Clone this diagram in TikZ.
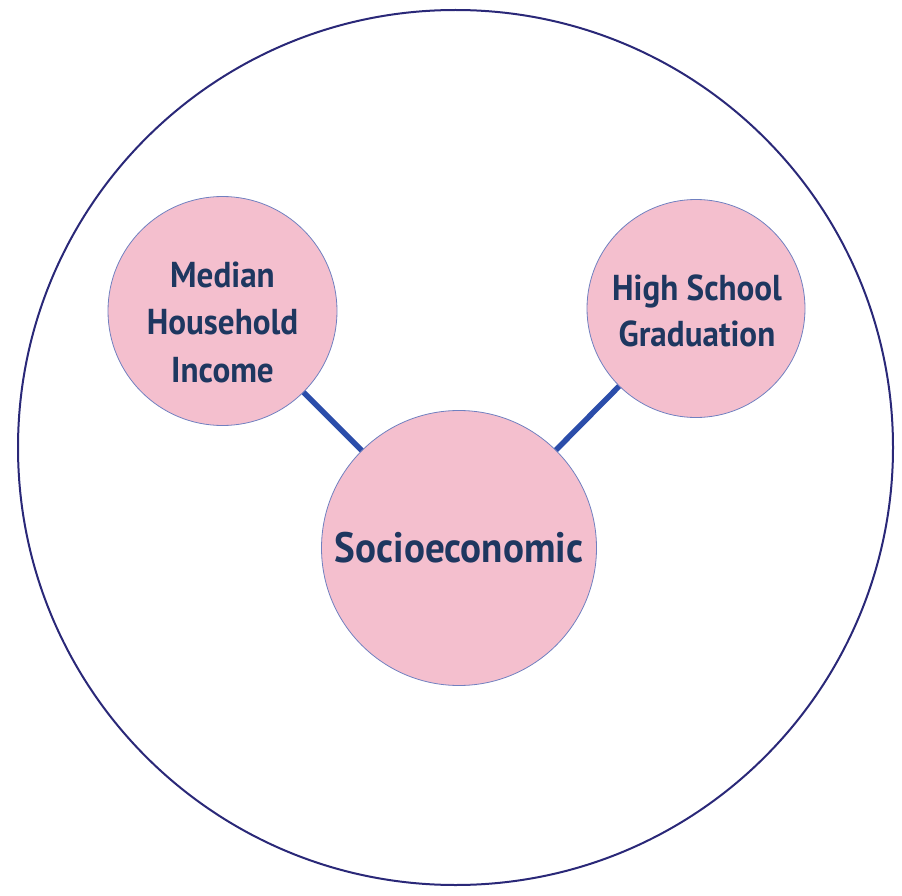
\documentclass[tikz,border=0pt]{standalone}
\usepackage{fontspec}
\setmainfont{PT Sans}
\newfontfamily\labelfont[FakeStretch=0.92]{PT Sans Bold}
\definecolor{pinkfill}{HTML}{F4BFCE}
\definecolor{rimblue}{HTML}{7080C0}
\definecolor{linkblue}{HTML}{2B4DAA}
\definecolor{textnavy}{HTML}{1E3760}
\definecolor{outernavy}{HTML}{2A2878}
\begin{document}
\begin{tikzpicture}[x=1pt,y=-1pt,
  bubble/.style={circle,fill=pinkfill,draw=rimblue,line width=0.8pt,inner sep=0pt},
  lbl/.style={text=textnavy,align=center,inner sep=0pt},
  link/.style={draw=linkblue,line width=5.5pt}]
\useasboundingbox (0,0) rectangle (902,896);
\node[circle,draw=outernavy,line width=2pt,minimum size=875pt,inner sep=0pt] (outer) at (455.5,447.5) {};
\coordinate (mc) at (222.5,311);
\coordinate (hc) at (696,308.5);
\coordinate (sc) at (459,548);
\draw[link] (mc) -- (sc);
\draw[link] (hc) -- (sc);
\node[bubble,minimum size=229pt] (median) at (mc) {};
\node[bubble,minimum size=218pt] (hs) at (hc) {};
\node[bubble,minimum size=275pt] (socio) at (sc) {};
\node[lbl,font=\labelfont\fontsize{36}{47.5}\selectfont] (medianlbl) at (222.5,322) {Median\\Household\\Income};
\node[lbl,font=\labelfont\fontsize{36}{46}\selectfont] (hslbl) at (697,311) {High School\\Graduation};
\node[lbl,font=\labelfont\fontsize{42.5}{48}\selectfont] (sociolbl) at (459,548) {Socioeconomic};
\end{tikzpicture}
\end{document}
